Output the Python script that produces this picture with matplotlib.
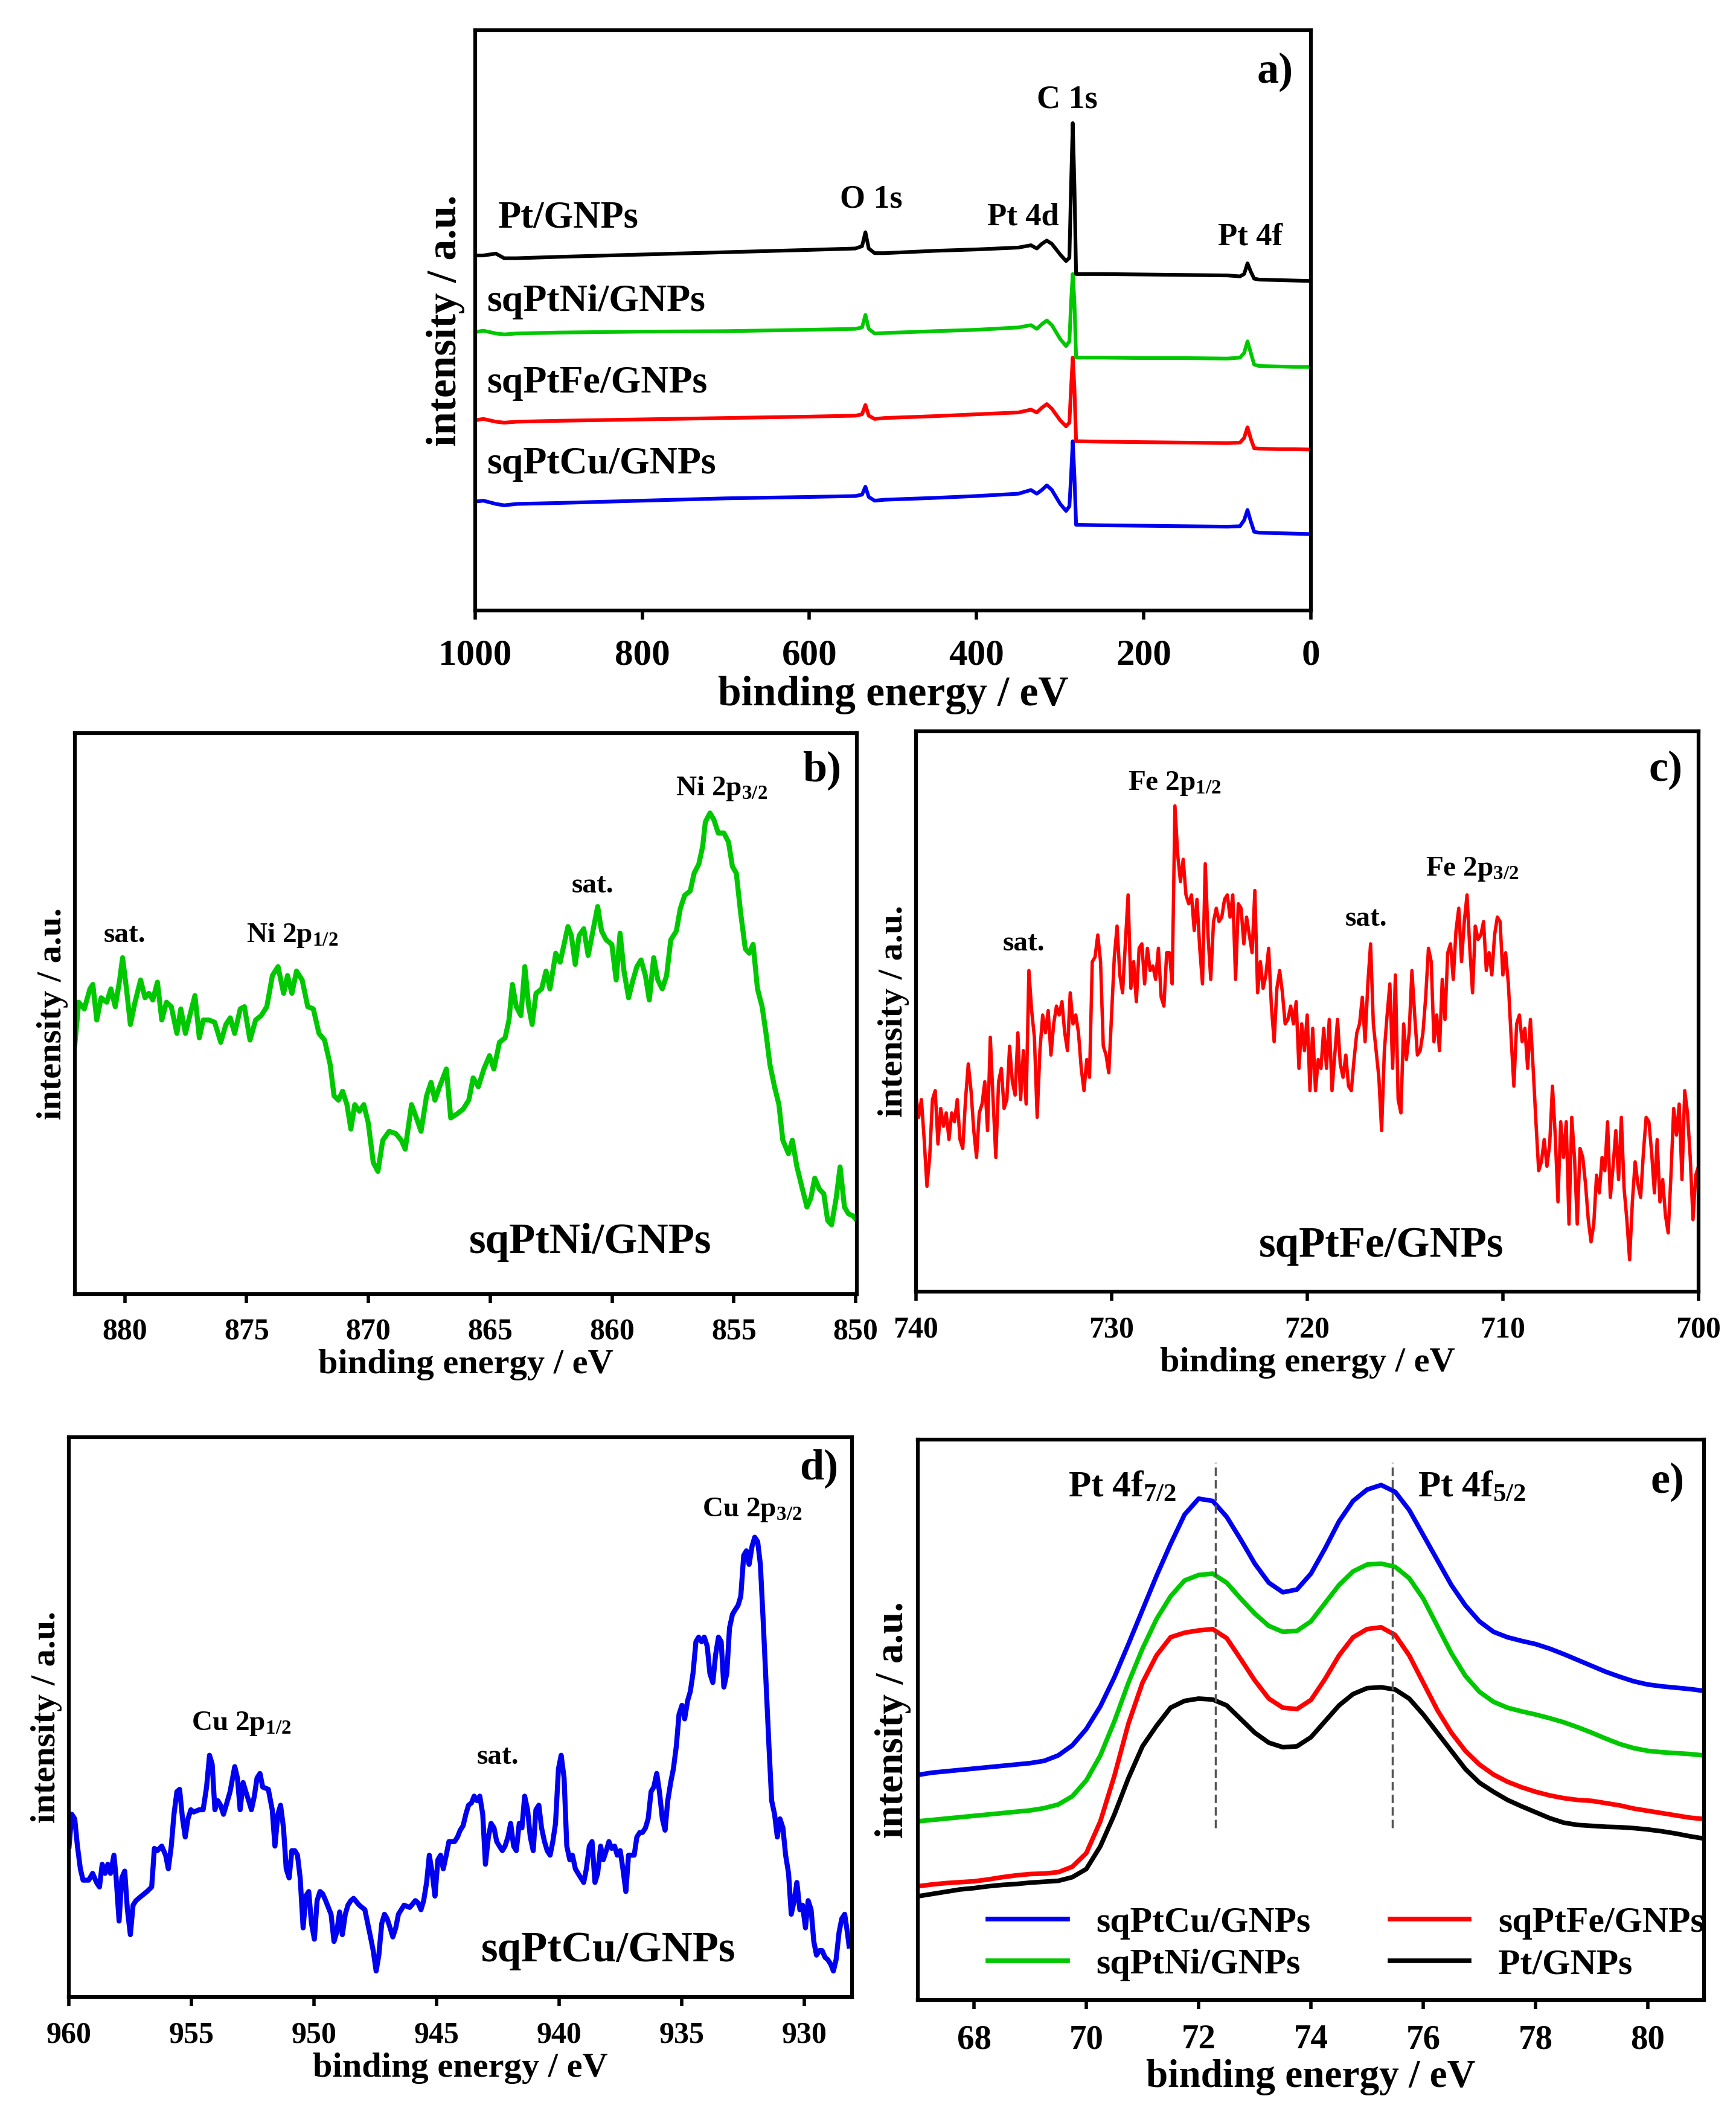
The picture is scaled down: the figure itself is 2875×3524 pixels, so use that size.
import numpy as np
import matplotlib.pyplot as plt

plt.rcParams['font.family'] = ['Liberation Serif', 'DejaVu Serif']
plt.rcParams['font.weight'] = 'bold'
plt.rcParams['axes.labelweight'] = 'bold'
plt.rcParams['mathtext.fontset'] = 'custom'
plt.rcParams['mathtext.rm'] = 'Liberation Serif:bold'
plt.rcParams['mathtext.it'] = 'Liberation Serif:bold'
plt.rcParams['mathtext.bf'] = 'Liberation Serif:bold'
plt.rcParams['mathtext.default'] = 'rm'

GREEN = '#00c800'
RED = '#ff0000'
BLUE = '#0000f0'
BLACK = '#000000'

# ---- a) survey spectra ----
survey_ev = [1000, 990, 975, 965, 950, 900, 800, 700, 600, 545, 537, 533, 529, 522, 510,
             450, 400, 350, 335, 328, 322, 316, 310, 300, 293, 289, 287, 285, 283, 281,
             278, 250, 200, 150, 100, 85, 80, 76, 72, 68, 62, 40, 20, 0]
survey_pt = [765, 765, 769, 759, 759, 762, 767, 772, 777, 780, 785, 815, 780, 770, 770,
             775, 778, 782, 787, 780, 790, 797, 790, 767, 753, 760, 915, 1050, 915, 725,
             725, 725, 724, 723, 722, 720, 725, 748, 730, 715, 713, 712, 711, 710]
survey_ni = [600, 603, 597, 595, 597, 599, 601, 602, 605, 607, 610, 637, 607, 597, 598,
             602, 605, 610, 615, 607, 617, 625, 615, 585, 570, 580, 665, 725, 665, 545,
             545, 545, 544, 544, 543, 545, 555, 580, 555, 530, 527, 526, 525, 525]
survey_fe = [410, 413, 407, 405, 407, 409, 412, 415, 418, 420, 423, 443, 420, 413, 415,
             419, 423, 427, 433, 427, 437, 445, 435, 410, 397, 405, 480, 545, 480, 365,
             365, 364, 363, 362, 361, 362, 372, 395, 370, 350, 349, 348, 348, 347]
survey_cu = [235, 237, 230, 227, 230, 232, 237, 242, 245, 247, 250, 267, 245, 237, 239,
             243, 247, 252, 260, 252, 260, 270, 260, 230, 215, 225, 290, 365, 290, 185,
             185, 184, 183, 182, 181, 182, 195, 217, 192, 170, 168, 167, 166, 165]

# ---- b) Ni 2p ----
ni_ev = [882.05, 881.89, 881.66, 881.43, 881.31, 881.15, 880.97, 880.74, 880.57, 880.39,
         880.21, 880.09, 879.93, 879.77, 879.58, 879.35, 879.17, 879.01, 878.85, 878.66,
         878.48, 878.29, 878.09, 877.86, 877.70, 877.51, 877.33, 877.12, 876.94, 876.78,
         876.54, 876.31, 876.06, 875.85, 875.67, 875.49, 875.26, 875.09, 874.86, 874.63,
         874.40, 874.17, 873.94, 873.71, 873.48, 873.32, 873.14, 872.95, 872.72, 872.49,
         872.26, 872.03, 871.80, 871.57, 871.41, 871.23, 871.06, 870.88, 870.72, 870.56,
         870.37, 870.19, 870.01, 869.80, 869.61, 869.41, 869.15, 868.88, 868.65, 868.49,
         868.23, 868.03, 867.84, 867.61, 867.43, 867.27, 867.08, 866.80, 866.62, 866.34,
         866.11, 865.88, 865.70, 865.49, 865.26, 865.03, 864.85, 864.62, 864.39, 864.23,
         864.09, 863.93, 863.74, 863.58, 863.42, 863.28, 863.12, 862.89, 862.71, 862.55,
         862.31, 862.13, 861.97, 861.81, 861.67, 861.51, 861.35, 861.16, 860.98, 860.82,
         860.59, 860.43, 860.24, 860.01, 859.83, 859.67, 859.51, 859.32, 859.14, 858.98,
         858.81, 858.63, 858.47, 858.29, 858.12, 857.94, 857.76, 857.59, 857.36, 857.20,
         857.02, 856.79, 856.63, 856.44, 856.28, 856.17, 855.98, 855.82, 855.64, 855.41,
         855.22, 855.06, 854.90, 854.72, 854.53, 854.37, 854.21, 854.03, 853.84, 853.68,
         853.52, 853.33, 853.15, 852.99, 852.76, 852.60, 852.41, 852.23, 852.00, 851.84,
         851.68, 851.49, 851.31, 851.15, 850.99, 850.80, 850.64, 850.46, 850.30, 850.11,
         849.95]
ni_int = [560, 655, 640, 685, 695, 615, 665, 655, 685, 645,
          705, 755, 685, 605, 655, 705, 665, 675, 660, 700,
          615, 655, 645, 585, 640, 585, 625, 670, 575, 615,
          615, 610, 565, 605, 620, 585, 640, 645, 570, 615,
          625, 645, 715, 735, 675, 715, 675, 725, 705, 645,
          640, 585, 570, 515, 445, 435, 455, 425, 370, 425,
          410, 425, 385, 295, 275, 345, 365, 360, 345, 325,
          425, 395, 365, 445, 475, 435, 465, 505, 395, 405,
          415, 435, 485, 465, 505, 535, 505, 565, 575, 615,
          695, 645, 625, 735, 645, 605, 675, 685, 725, 685,
          765, 745, 785, 825, 805, 740, 805, 820, 760, 805,
          870, 815, 795, 785, 705, 810, 725, 665, 705, 735,
          750, 715, 660, 755, 705, 685, 715, 795, 815, 865,
          895, 905, 945, 965, 1005, 1060, 1080, 1065, 1035, 1035,
          1015, 960, 945, 855, 775, 765, 785, 685, 645, 585,
          515, 465, 425, 345, 315, 345, 285, 245, 195, 215,
          260, 235, 225, 165, 155, 215, 285, 195, 180, 175,
          165]

# ---- c) Fe 2p (evenly sampled from 740 to 700 eV) ----
fe_int = [442, 392, 432, 342, 237, 302, 432, 452, 332, 412, 372, 402, 342, 402, 382,
          432, 342, 322, 432, 512, 452, 362, 302, 402, 422, 472, 362, 572, 432, 302,
          472, 502, 412, 432, 552, 472, 442, 582, 432, 542, 422, 722, 632, 572, 392,
          542, 622, 582, 632, 532, 602, 642, 622, 652, 582, 542, 672, 602, 622, 582,
          502, 452, 522, 482, 742, 752, 802, 742, 552, 532, 492, 622, 752, 822, 712,
          672, 782, 892, 682, 742, 652, 772, 782, 692, 772, 722, 732, 702, 772, 662,
          642, 762, 762, 692, 1092, 982, 922, 972, 892, 872, 892, 812, 882, 772, 692,
          962, 802, 702, 832, 862, 832, 842, 882, 892, 842, 892, 702, 872, 862, 782,
          842, 802, 762, 902, 672, 742, 682, 712, 772, 642, 562, 682, 722, 672, 602,
          612, 642, 602, 652, 502, 602, 542, 622, 452, 592, 452, 522, 502, 592, 502,
          612, 452, 532, 612, 512, 482, 532, 462, 452, 522, 582, 602, 662, 562, 692,
          782, 602, 542, 482, 362, 542, 622, 692, 502, 712, 432, 402, 602, 522, 582,
          722, 622, 532, 542, 582, 662, 772, 742, 562, 622, 542, 702, 612, 762, 782,
          702, 812, 862, 742, 832, 892, 772, 672, 822, 792, 802, 832, 722, 762, 712,
          802, 842, 832, 712, 762, 692, 572, 462, 602, 622, 562, 592, 502, 612, 502,
          382, 272, 292, 342, 282, 332, 462, 352, 202, 382, 302, 382, 152, 392, 302,
          152, 322, 302, 242, 162, 112, 152, 262, 222, 302, 272, 382, 212, 282, 362,
          252, 392, 232, 162, 72, 202, 292, 242, 212, 312, 392, 382, 312, 222, 342,
          202, 252, 172, 132, 262, 412, 352, 422, 252, 452, 402, 302, 162, 262, 282]
fe_ev = np.linspace(740, 700, len(fe_int))

# ---- d) Cu 2p ----
cu_ev = [960.00, 959.89, 959.77, 959.66, 959.54, 959.43, 959.20, 959.04, 958.88, 958.76,
         958.65, 958.53, 958.42, 958.31, 958.17, 958.08, 957.96, 957.85, 957.73, 957.62,
         957.50, 957.39, 957.27, 957.05, 956.82, 956.63, 956.52, 956.40, 956.22, 956.06,
         955.95, 955.83, 955.72, 955.60, 955.49, 955.37, 955.26, 955.15, 955.03, 954.92,
         954.69, 954.53, 954.39, 954.27, 954.16, 954.05, 953.93, 953.82, 953.70, 953.59,
         953.43, 953.24, 953.13, 953.02, 952.90, 952.79, 952.67, 952.56, 952.44, 952.33,
         952.21, 952.10, 951.87, 951.71, 951.60, 951.48, 951.37, 951.25, 951.14, 951.02,
         950.91, 950.79, 950.68, 950.57, 950.45, 950.34, 950.22, 950.11, 949.99, 949.88,
         949.76, 949.65, 949.53, 949.31, 949.19, 949.08, 948.96, 948.85, 948.73, 948.62,
         948.50, 948.39, 948.16, 947.93, 947.70, 947.59, 947.47, 947.36, 947.24, 947.13,
         947.02, 946.90, 946.79, 946.67, 946.56, 946.33, 946.10, 945.87, 945.76, 945.64,
         945.53, 945.41, 945.30, 945.18, 945.07, 944.95, 944.84, 944.73, 944.61, 944.50,
         944.27, 944.15, 944.04, 943.92, 943.81, 943.70, 943.58, 943.47, 943.35, 943.24,
         943.12, 943.01, 942.89, 942.78, 942.66, 942.55, 942.44, 942.32, 942.21, 942.09,
         941.98, 941.86, 941.75, 941.63, 941.52, 941.41, 941.29, 941.18, 941.06, 940.95,
         940.83, 940.72, 940.60, 940.49, 940.37, 940.26, 940.15, 940.03, 939.92, 939.80,
         939.69, 939.57, 939.46, 939.34, 939.23, 939.00, 938.89, 938.77, 938.66, 938.54,
         938.43, 938.31, 938.20, 938.08, 937.97, 937.86, 937.74, 937.63, 937.51, 937.40,
         937.28, 937.17, 937.05, 936.94, 936.83, 936.71, 936.60, 936.48, 936.37, 936.25,
         936.14, 936.02, 935.91, 935.79, 935.68, 935.57, 935.45, 935.34, 935.22, 935.11,
         934.99, 934.88, 934.76, 934.65, 934.54, 934.42, 934.31, 934.19, 934.08, 933.96,
         933.85, 933.73, 933.62, 933.50, 933.39, 933.28, 933.16, 933.05, 932.93, 932.82,
         932.70, 932.59, 932.47, 932.36, 932.25, 932.13, 932.02, 931.90, 931.79, 931.67,
         931.56, 931.44, 931.33, 931.21, 931.10, 930.99, 930.87, 930.76, 930.64, 930.53,
         930.41, 930.30, 930.18, 930.07, 929.95, 929.84, 929.72, 929.61, 929.50, 929.38,
         929.27, 929.15, 929.04, 928.92, 928.81, 928.70, 928.58, 928.47, 928.35, 928.24,
         928.17]
cu_int = [332, 402, 392, 332, 282, 257, 257, 272, 252, 242,
          292, 272, 292, 272, 312, 262, 167, 262, 277, 192,
          137, 202, 212, 222, 232, 242, 327, 322, 332, 312,
          282, 332, 402, 452, 457, 392, 352, 392, 412, 407,
          412, 412, 462, 532, 512, 412, 432, 422, 402, 422,
          452, 507, 482, 412, 472, 452, 432, 412, 442, 482,
          492, 462, 457, 412, 332, 402, 422, 372, 282, 262,
          322, 322, 312, 262, 152, 222, 232, 162, 127, 212,
          232, 227, 212, 182, 122, 142, 187, 137, 182, 202,
          212, 217, 202, 192, 132, 102, 57, 92, 162, 182,
          172, 152, 132, 152, 182, 202, 197, 212, 207, 192,
          212, 252, 312, 272, 222, 302, 312, 282, 312, 342,
          342, 352, 367, 377, 402, 422, 427, 442, 432, 442,
          402, 292, 352, 382, 372, 342, 332, 322, 332, 352,
          382, 332, 322, 382, 372, 442, 412, 352, 322, 412,
          422, 372, 342, 322, 312, 342, 382, 502, 532, 482,
          332, 302, 312, 282, 272, 252, 282, 332, 342, 252,
          272, 332, 302, 322, 342, 327, 332, 312, 322, 282,
          232, 312, 312, 312, 352, 362, 362, 372, 392, 452,
          462, 492, 452, 392, 367, 432, 472, 502, 552, 622,
          642, 612, 652, 672, 712, 782, 792, 782, 792, 772,
          712, 692, 752, 792, 782, 682, 712, 812, 842, 852,
          862, 882, 972, 982, 952, 992, 1012, 1002, 952, 822,
          692, 552, 432, 402, 352, 392, 372, 312, 272, 182,
          212, 252, 192, 202, 152, 212, 192, 122, 92, 102,
          102, 87, 82, 72, 57, 82, 142, 172, 182, 142,
          112]

# ---- e) Pt 4f (0.25 eV steps) ----
pt4f_ev = np.arange(67.0, 81.01, 0.25)
pt4f_cu = [495, 500, 503, 506, 509, 512, 515, 518, 521, 526, 538, 560, 596, 646, 710,
           783, 858, 933, 1003, 1068, 1103, 1098, 1063, 1013, 960, 918, 897, 903, 938,
           993, 1053, 1098, 1123, 1133, 1118, 1078, 1023, 968, 913, 868, 833, 810, 798,
           790, 783, 773, 761, 748, 735, 722, 711, 701, 694, 690, 687, 684, 680]
pt4f_ni = [393, 396, 399, 402, 405, 408, 411, 414, 417, 422, 430, 448, 483, 538, 613,
           698, 773, 838, 888, 923, 935, 938, 918, 883, 850, 823, 810, 812, 833,
           873, 913, 943, 958, 960, 953, 928, 883, 823, 763, 713, 678, 656, 643,
           635, 628, 620, 611, 600, 588, 575, 563, 554, 548, 545, 543, 541, 538]
pt4f_fe = [250, 254, 257, 259, 261, 265, 270, 274, 277, 278, 281, 293, 323, 393, 493,
           608, 698, 758, 798, 808, 813, 816, 796, 750, 703, 663, 643, 640, 660,
           706, 758, 798, 816, 820, 803, 758, 698, 638, 588, 548, 518, 496, 480,
           468, 458, 450, 444, 440, 438, 433, 428, 421, 416, 411, 406, 401, 398]
pt4f_pt = [228, 233, 238, 243, 246, 250, 253, 255, 258, 260, 262, 270, 288, 338, 408,
           488, 558, 603, 643, 658, 663, 661, 648, 618, 588, 566, 556, 558, 578,
           613, 648, 673, 686, 688, 683, 663, 628, 588, 548, 508, 478, 458, 440,
           426, 413, 400, 390, 385, 383, 381, 380, 378, 375, 371, 366, 360, 355]
pt4f_lines = [72.3, 75.45]


def style(ax, xlim, ylim, ticks, tick_fs, label_fs, pad=18):
    ax.set_xlim(*xlim)
    ax.set_ylim(*ylim)
    ax.set_xticks(ticks)
    for s in ax.spines.values():
        s.set_linewidth(4.5)
    ax.tick_params(axis='x', direction='out', length=11, width=4, pad=pad,
                   labelsize=tick_fs, top=False)
    ax.tick_params(axis='y', left=False, labelleft=False, right=False)
    ax.set_xlabel('binding energy / eV', fontsize=label_fs, labelpad=4)
    ax.set_ylabel('intensity / a.u.', fontsize=label_fs, labelpad=8)


fig = plt.figure(figsize=(28.75, 35.24), dpi=100)

# a)
ax = fig.add_axes([0.2736, 0.713, 0.4816, 0.2728])
ax.plot(survey_ev, survey_cu, color=BLUE, lw=4.4)
ax.plot(survey_ev, survey_fe, color=RED, lw=4.4)
ax.plot(survey_ev, survey_ni, color=GREEN, lw=4.4)
ax.plot(survey_ev, survey_pt, color=BLACK, lw=4.4)
style(ax, (1000, 0), (0, 1250), [1000, 800, 600, 400, 200, 0], 44, 50, pad=22)
ax.yaxis.labelpad = 12
ax.text(972, 845, 'Pt/GNPs', fontsize=45, ha='left', va='center')
ax.text(986, 665, 'sqPtNi/GNPs', fontsize=46, ha='left', va='center')
ax.text(986, 490, 'sqPtFe/GNPs', fontsize=46, ha='left', va='center')
ax.text(986, 315, 'sqPtCu/GNPs', fontsize=46, ha='left', va='center')
ax.text(526, 885, 'O 1s', fontsize=39, ha='center', va='center')
ax.text(344, 847, 'Pt 4d', fontsize=38, ha='center', va='center')
ax.text(292, 1100, 'C 1s', fontsize=39, ha='center', va='center')
ax.text(73, 805, 'Pt 4f', fontsize=38, ha='center', va='center')
ax.text(21, 1160, 'a)', fontsize=52, ha='right', va='center')

# b)
ax = fig.add_axes([0.0431, 0.392, 0.4505, 0.2636])
ax.plot(ni_ev, ni_int, color=GREEN, lw=6)
style(ax, (882.05, 849.95), (0, 1260), [880, 875, 870, 865, 860, 855, 850], 36, 42)
ax.text(880.0, 805, 'sat.', fontsize=34, ha='center', va='center')
ax.text(875.0, 805, r'Ni 2p$_{1/2}$', fontsize=34, ha='left', va='center')
ax.text(860.8, 917, 'sat.', fontsize=34, ha='center', va='center')
ax.text(857.4, 1135, r'Ni 2p$_{3/2}$', fontsize=34, ha='left', va='center')
ax.text(850.6, 1175, 'b)', fontsize=52, ha='right', va='center')
ax.text(860.9, 115, 'sqPtNi/GNPs', fontsize=51, ha='center', va='center')

# c)
ax = fig.add_axes([0.5276, 0.393, 0.4508, 0.2634])
ax.plot(fe_ev, fe_int, color=RED, lw=4)
style(ax, (740, 700), (0, 1260), [740, 730, 720, 710, 700], 36, 42)
ax.text(734.5, 782, 'sat.', fontsize=34, ha='center', va='center')
ax.text(729.15, 1142, r'Fe 2p$_{1/2}$', fontsize=34, ha='left', va='center')
ax.text(717.0, 837, 'sat.', fontsize=34, ha='center', va='center')
ax.text(713.95, 950, r'Fe 2p$_{3/2}$', fontsize=34, ha='left', va='center')
ax.text(700.8, 1172, 'c)', fontsize=52, ha='right', va='center')
ax.text(716.2, 102, 'sqPtFe/GNPs', fontsize=51, ha='center', va='center')

# d)
ax = fig.add_axes([0.0398, 0.0616, 0.4510, 0.2630])
ax.plot(cu_ev, cu_int, color=BLUE, lw=6)
style(ax, (960, 928.05), (0, 1232), [960, 955, 950, 945, 940, 935, 930], 36, 42)
ax.text(955.0, 602, r'Cu 2p$_{1/2}$', fontsize=34, ha='left', va='center')
ax.text(942.5, 527, 'sat.', fontsize=34, ha='center', va='center')
ax.text(934.15, 1072, r'Cu 2p$_{3/2}$', fontsize=34, ha='left', va='center')
ax.text(928.6, 1162, 'd)', fontsize=52, ha='right', va='center')
ax.text(938.0, 102, 'sqPtCu/GNPs', fontsize=51, ha='center', va='center')

# e)
ax = fig.add_axes([0.5287, 0.0602, 0.4529, 0.2633])
l_cu, = ax.plot(pt4f_ev, pt4f_cu, color=BLUE, lw=5.5, label='sqPtCu/GNPs')
l_ni, = ax.plot(pt4f_ev, pt4f_ni, color=GREEN, lw=5.5, label='sqPtNi/GNPs')
l_fe, = ax.plot(pt4f_ev, pt4f_fe, color=RED, lw=5.5, label='sqPtFe/GNPs')
l_pt, = ax.plot(pt4f_ev, pt4f_pt, color=BLACK, lw=5.5, label='Pt/GNPs')
ax.vlines(pt4f_lines, 378, 1183, colors='#555555', linestyles=(0, (4, 2)), lw=2.5)
style(ax, (67.0, 81.0), (0, 1233), [68, 70, 72, 74, 76, 78, 80], 41, 47)
ax.text(71.6, 1128, r'Pt 4f$_{7/2}$', fontsize=44, ha='right', va='center')
ax.text(75.9, 1128, r'Pt 4f$_{5/2}$', fontsize=44, ha='left', va='center')
ax.text(80.65, 1140, 'e)', fontsize=52, ha='right', va='center')
ax.legend(handles=[l_cu, l_ni, l_fe, l_pt], ncol=2, frameon=False, fontsize=43,
          loc='center', bbox_to_anchor=(0.545, 0.10), handlelength=2.2,
          columnspacing=2.2, handletextpad=0.8, labelspacing=0.25)

fig.savefig('out.png', dpi=100)
